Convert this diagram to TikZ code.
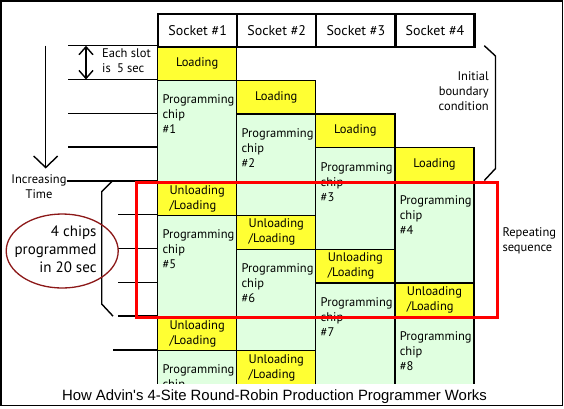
\documentclass[tikz,border=0pt]{standalone}
\usepackage{fontspec}
\setmainfont{PT Sans}
\newfontfamily\capfont{Liberation Sans}
\usetikzlibrary{arrows.meta,shapes.geometric}
\definecolor{cellyellow}{RGB}{255,255,51}
\definecolor{cellgreen}{RGB}{224,255,224}
\definecolor{ovalred}{RGB}{140,24,24}
\definecolor{seqred}{RGB}{255,0,0}
\newcommand\colx[1]{157+79.1*#1}
\newcommand\rowy[1]{45.7+33.8*#1}
\newcommand\loadcell[4]{\node[loadbox, minimum height={#4*33.8pt}] (#1) at ({\colx{#2}},{\rowy{#3}}) {Loading};}
\newcommand\unloadcell[3]{\node[loadbox, minimum height=33.8pt] (#1) at ({\colx{#2}},{\rowy{#3}}) {Unloading\\/Loading};}
% #6 = baseline offset of the last text line below the cell top
\newcommand\progcell[6]{\node[progbox, minimum height={#4*33.8pt}] (#1) at ({\colx{#2}},{\rowy{#3}}) {};
  \node[celltext, anchor=base west] (#1t) at ([xshift=5.3pt,yshift=-#6pt]#1.north west) {#5};}
\begin{document}
\begin{tikzpicture}[x=1pt,y=-1pt,
  cellbox/.style={draw=black, line width=1.2pt, inner sep=0pt, minimum width=79.1pt, anchor=north west,
    font=\fontsize{12.5}{15}\selectfont, align=left},
  loadbox/.style={cellbox, fill=cellyellow},
  progbox/.style={cellbox, fill=cellgreen},
  celltext/.style={font=\fontsize{12.5}{15}\selectfont, inner sep=0pt, align=left},
  headbox/.style={draw=black, line width=2.2pt, inner sep=0pt, minimum width=79.1pt, minimum height=33.2pt,
    anchor=north west, font=\fontsize{14}{16}\selectfont},
  rule/.style={draw=black, line width=1.4pt},
  note/.style={font=\fontsize{12.5}{15}\selectfont, inner sep=0pt},
]
\useasboundingbox (0,0) rectangle (564,408);
\fill[white] (0,0) rectangle (564,408);

% table body, clipped above caption
\begin{scope}
\clip (0,0) rectangle (564,383.5);
% column 1
\loadcell{a0}{0}{0}{1}
\progcell{a1}{0}{1}{3}{Programming\\chip\\\#1}{54}
\unloadcell{a2}{0}{4}
\progcell{a3}{0}{5}{3}{Programming\\chip\\\#5}{54}
\unloadcell{a4}{0}{8}
\progcell{a5}{0}{9}{3}{Programming\\chip}{39}
% column 2
\loadcell{b0}{1}{1}{1}
\progcell{b1}{1}{2}{3}{Programming\\chip\\\#2}{54}
\unloadcell{b2}{1}{5}
\progcell{b3}{1}{6}{3}{Programming\\chip\\\#6}{54}
\unloadcell{b4}{1}{9}
% column 3
\loadcell{c0}{2}{2}{1}
\progcell{c1}{2}{3}{3}{Programming\\chip\\\#3}{54}
\unloadcell{c2}{2}{6}
\progcell{c3}{2}{7}{3}{Programming\\chip\\\#7}{54}
% column 4
\loadcell{d0}{3}{3}{1}
\progcell{d1}{3}{4}{3}{Programming\\chip\\\#4}{54}
\unloadcell{d2}{3}{7}
\progcell{d3}{3}{8}{3}{Programming\\chip\\\#8}{54}
\end{scope}

% header
\node[headbox] (s1) at ({\colx{0}},12.5) {Socket \#1};
\node[headbox] (s2) at ({\colx{1}},12.5) {Socket \#2};
\node[headbox] (s3) at ({\colx{2}},12.5) {Socket \#3};
\node[headbox] (s4) at ({\colx{3}},12.5) {Socket \#4};

% left time rules
\coordinate (h0) at (68,{\rowy{0}});
\coordinate (h1) at (68,{\rowy{1}});
\coordinate (h2) at (68,{\rowy{2}});
\coordinate (h3) at (68,{\rowy{3}});
\coordinate (h4) at (67,{\rowy{4}});
\coordinate (h5) at (118,{\rowy{5}});
\coordinate (h6) at (118,{\rowy{6}});
\coordinate (h7) at (118,{\rowy{7}});
\coordinate (h8) at (118,{\rowy{8}});
\coordinate (h9) at (113,{\rowy{9}});
\draw[rule] (h0) -- (h0 -| a0.west);
\draw[rule] (h1) -- (h1 -| a1.west);
\draw[rule] (h2) -- (h2 -| a1.west);
\draw[rule] (h3) -- (h3 -| a1.west);
\draw[rule] (h4) -- (h4 -| a2.west);
\draw[rule] (h5) -- (h5 -| a3.west);
\draw[rule] (h6) -- (h6 -| a3.west);
\draw[rule] (h7) -- (h7 -| a3.west);
\draw[rule] (h8) -- (h8 -| a4.west);
\draw[rule] (h9) -- (h9 -| a5.west);

% slot-size arrow
\coordinate (sz0) at (86,{\rowy{0}});
\coordinate (sz1) at (86,{\rowy{1}});
\draw[line width=1.4pt, {Straight Barb[length=8pt,width=14pt]}-{Straight Barb[length=8pt,width=14pt]}] (sz0) -- (sz1);
\node[note, anchor=base west, align=left] (slotnote) at (102,72.5) {Each slot\\is\enspace 5 sec};

% increasing time arrow
\coordinate (t0) at (45.7,{\rowy{0}});
\coordinate (t1) at (45.7,168.5);
\draw[line width=1.4pt, -{Straight Barb[length=11.5pt,width=24pt]}] (t0) -- (t1);
\node[note, anchor=base, align=center] (timenote) at (39,198.5) {Increasing\\Time};

% left bracket and oval
\coordinate (lb0) at (112.5,{\rowy{4}});
\coordinate (lb1) at (101.7,191.7);
\coordinate (lb2) at (101.7,304);
\coordinate (lb3) at (113,{\rowy{8}});
\draw[rule] (lb0) -- (lb1) -- (lb2) -- (lb3);
\node[ellipse, draw=ovalred, line width=1.3pt, minimum width=112pt, minimum height=74pt, inner sep=0pt] (oval) at (62.2,251) {};
\node[font=\fontsize{15}{18}\selectfont, inner sep=0pt, align=right, anchor=base east] (ovaltext) at (96.7,272.7) {4 chips\\programmed\\in 20 sec};

% right bracket
\coordinate (rb0) at (484.3,{\rowy{0}});
\coordinate (rb1) at (495.5,56);
\coordinate (rb2) at (495.5,168.5);
\coordinate (rb3) at (484.3,180.5);
\draw[rule] (rb0) -- (rb1) -- (rb2) -- (rb3);
\node[note, anchor=base east, align=right] (initnote) at (489,110.3) {Initial\\boundary\\condition};

% repeating sequence box
\node[draw=seqred, line width=2.6pt, inner sep=0pt, minimum width=361pt, minimum height=135pt, anchor=north west] (seq) at (135,{\rowy{4}}) {};
\node[note, anchor=base west, align=left] (seqnote) at (502.3,251.5) {Repeating\\sequence};

% caption
\node[font=\capfont\fontsize{14.9}{17}\selectfont, inner sep=0pt, anchor=base] (caption) at (274.5,400) {How Advin's 4-Site Round-Robin Production Programmer Works};

% outer frame
\draw[line width=1.3pt] (1,1) rectangle (562.5,405.5);
\end{tikzpicture}
\end{document}
